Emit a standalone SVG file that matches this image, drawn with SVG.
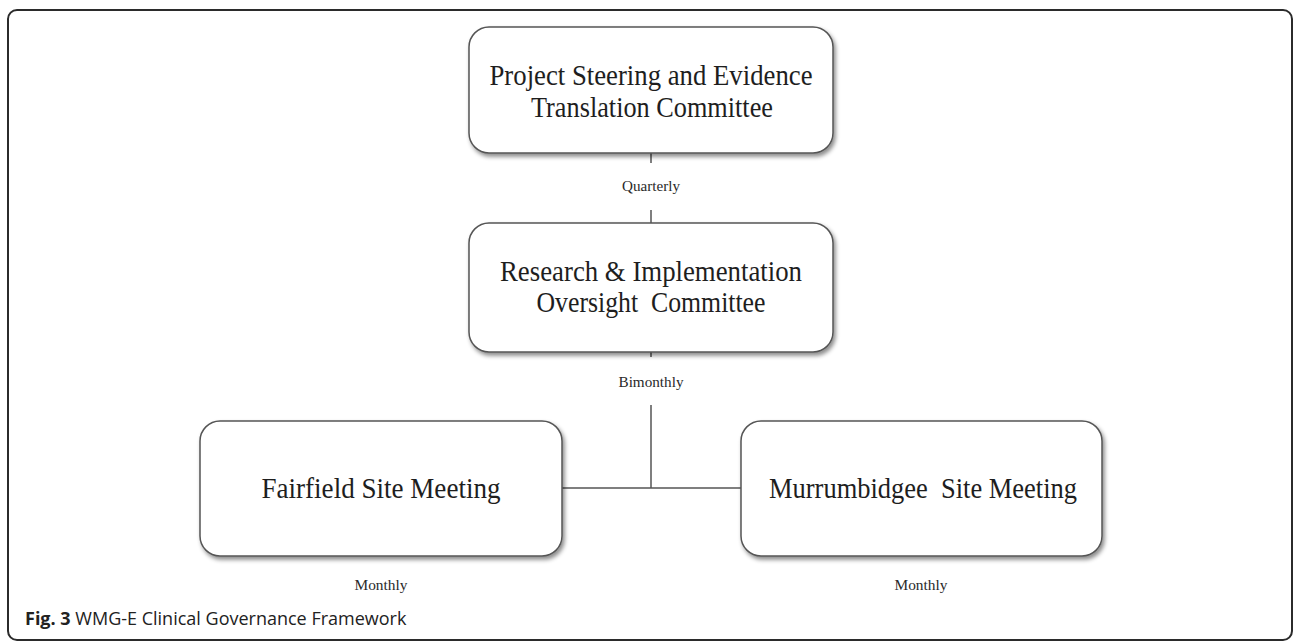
<svg xmlns="http://www.w3.org/2000/svg" width="1296" height="644" viewBox="0 0 1296 644">
  <style>
    .frame { fill: #fff; stroke: #2b2b2b; stroke-width: 2; }
    .node { fill: #fff; stroke: #555; stroke-width: 1.5; filter: url(#shadow); }
    .title { font-family: "Liberation Serif", "Times New Roman", serif; font-size: 29px; fill: #1e1e1e; text-anchor: middle; white-space: pre; }
    .freq { font-family: "Liberation Serif", "Times New Roman", serif; font-size: 15px; fill: #2a2a2a; text-anchor: middle; }
    .link { stroke: #555; stroke-width: 1.5; fill: none; }
    .caption { font-family: "Open Sans", "Noto Sans", sans-serif; font-size: 18px; fill: #222; }
  </style>
  <defs>
    <filter id="shadow" x="-10%" y="-10%" width="125%" height="130%">
      <feDropShadow dx="2" dy="3" stdDeviation="2" flood-color="#000" flood-opacity="0.45"/>
    </filter>
  </defs>

  <rect width="1296" height="644" fill="#fff"/>
  <rect class="frame" x="8" y="10" width="1284" height="630" rx="9"/>

  <!-- connectors -->
  <g id="connectors">
    <line class="link" x1="651" y1="153" x2="651" y2="163"/>
    <line class="link" x1="651" y1="210" x2="651" y2="223"/>
    <line class="link" x1="651" y1="352" x2="651" y2="357"/>
    <line class="link" x1="651" y1="405" x2="651" y2="488"/>
    <line class="link" x1="562" y1="488" x2="741" y2="488"/>
    <text class="freq" x="651" y="191" textLength="58" lengthAdjust="spacingAndGlyphs">Quarterly</text>
    <text class="freq" x="651" y="387" textLength="65" lengthAdjust="spacingAndGlyphs">Bimonthly</text>
  </g>

  <g id="steering">
    <rect class="node" x="469" y="27" width="364" height="126" rx="20"/>
    <text class="title" x="651" y="85" textLength="323" lengthAdjust="spacingAndGlyphs">Project Steering and Evidence</text>
    <text class="title" x="652" y="117" textLength="242" lengthAdjust="spacingAndGlyphs">Translation Committee</text>
  </g>

  <g id="oversight">
    <rect class="node" x="469" y="223" width="364" height="129" rx="20"/>
    <text class="title" x="651" y="281" textLength="302" lengthAdjust="spacingAndGlyphs">Research &amp; Implementation</text>
    <text class="title" x="651" y="312" textLength="229" lengthAdjust="spacingAndGlyphs">Oversight  Committee</text>
  </g>

  <g id="fairfield">
    <rect class="node" x="200" y="421" width="362" height="135" rx="20"/>
    <text class="title" x="381" y="498" textLength="239" lengthAdjust="spacingAndGlyphs">Fairfield Site Meeting</text>
    <text class="freq" x="381" y="590" textLength="53" lengthAdjust="spacingAndGlyphs">Monthly</text>
  </g>

  <g id="murrumbidgee">
    <rect class="node" x="741" y="421" width="361" height="135" rx="20"/>
    <text class="title" x="923" y="498" textLength="308" lengthAdjust="spacingAndGlyphs">Murrumbidgee  Site Meeting</text>
    <text class="freq" x="921" y="590" textLength="53" lengthAdjust="spacingAndGlyphs">Monthly</text>
  </g>

  <text class="caption" x="25" y="625"><tspan font-weight="bold">Fig. 3</tspan> WMG-E Clinical Governance Framework</text>
</svg>
